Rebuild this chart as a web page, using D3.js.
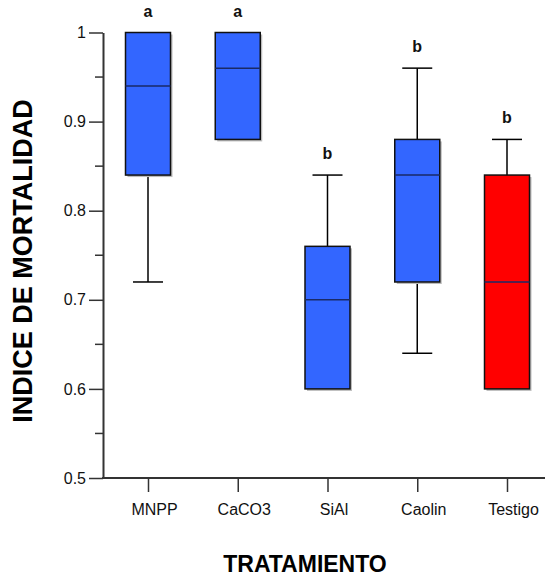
<!DOCTYPE html>
<html lang="es">
<head>
    <meta charset="UTF-8">
    <title>Indice de mortalidad</title>
    <script src="https://cdn.jsdelivr.net/npm/d3@7"></script>
    <style>
        body { margin: 0; background: #fff; }
        text { font-family: "Liberation Sans", Arial, sans-serif; }
    </style>
</head>
<body>
<script>
    // datos
    var categorias = ["MNPP", "CaCO3", "SiAl", "Caolin", "Testigo"];
    var minimo  = [0.72, 0.88, 0.60, 0.64, 0.60];
    var q1      = [0.84, 0.88, 0.60, 0.72, 0.60];
    var mediana = [0.94, 0.96, 0.70, 0.84, 0.72];
    var q3      = [1.00, 1.00, 0.76, 0.88, 0.84];
    var maximo  = [1.00, 1.00, 0.84, 0.96, 0.88];
    var letras  = ["a", "a", "b", "b", "b"];
    var colores = ["#3366ff", "#3366ff", "#3366ff", "#3366ff", "#ff0000"];
    var ticksY  = [0.5, 0.6, 0.7, 0.8, 0.9, 1];
    var ticksMenores = [0.55, 0.65, 0.75, 0.85, 0.95];

    var w = 545, h = 577;
    var x0 = 103, yBottom = 478, yTop = 32.5;
    var boxW = 45, capW = 30;

    var svg = d3.select("body").append("svg")
        .attr("width", w)
        .attr("height", h);

    var x = d3.scalePoint()
        .domain(categorias)
        .range([148, 507]);

    var y = d3.scaleLinear()
        .domain([0.5, 1])
        .range([yBottom, yTop]);

    var datos = categorias.map(function (c, i) {
        return {cat: c, min: minimo[i], q1: q1[i], med: mediana[i], q3: q3[i],
            max: maximo[i], letra: letras[i], color: colores[i]};
    });

    // eje Y
    var ejeY = svg.append("g")
        .attr("transform", "translate(" + x0 + ",0)")
        .call(d3.axisLeft(y).tickValues(ticksY).tickFormat(d3.format("")).tickSize(14).tickSizeOuter(0).tickPadding(3));
    ejeY.select(".domain").attr("stroke", "#333").attr("stroke-width", 2);
    ejeY.selectAll(".tick line").attr("stroke", "#333").attr("stroke-width", 1.5);
    ejeY.selectAll(".tick text").attr("font-size", "16px").attr("fill", "#111")
        .attr("font-family", "Liberation Sans, Arial, sans-serif");

    svg.append("g").selectAll("line")
        .data(ticksMenores)
        .enter()
        .append("line")
        .attr("x1", x0 - 8)
        .attr("x2", x0)
        .attr("y1", function (d) { return y(d); })
        .attr("y2", function (d) { return y(d); })
        .attr("stroke", "#333")
        .attr("stroke-width", 1.5);

    // eje X
    svg.append("line")
        .attr("x1", x0 - 1)
        .attr("x2", w)
        .attr("y1", yBottom)
        .attr("y2", yBottom)
        .attr("stroke", "#333")
        .attr("stroke-width", 2);

    var ejeX = svg.append("g")
        .attr("transform", "translate(0," + yBottom + ")")
        .call(d3.axisBottom(x).tickSize(14).tickSizeOuter(0).tickPadding(12));
    ejeX.select(".domain").remove();
    ejeX.selectAll(".tick line").attr("stroke", "#333").attr("stroke-width", 1.5);
    ejeX.selectAll(".tick text").attr("font-size", "16px").attr("fill", "#111")
        .attr("dx", 6)
        .attr("font-family", "Liberation Sans, Arial, sans-serif");

    // cajas
    var g = svg.append("g").selectAll("g")
        .data(datos)
        .enter()
        .append("g");

    g.append("line")
        .attr("x1", function (d) { return x(d.cat); })
        .attr("x2", function (d) { return x(d.cat); })
        .attr("y1", function (d) { return y(d.max); })
        .attr("y2", function (d) { return y(d.min); })
        .attr("stroke", "#000")
        .attr("stroke-width", 1.5);

    g.filter(function (d) { return d.max > d.q3; })
        .append("line")
        .attr("x1", function (d) { return x(d.cat) - capW / 2; })
        .attr("x2", function (d) { return x(d.cat) + capW / 2; })
        .attr("y1", function (d) { return y(d.max); })
        .attr("y2", function (d) { return y(d.max); })
        .attr("stroke", "#000")
        .attr("stroke-width", 1.5);

    g.filter(function (d) { return d.min < d.q1; })
        .append("line")
        .attr("x1", function (d) { return x(d.cat) - capW / 2; })
        .attr("x2", function (d) { return x(d.cat) + capW / 2; })
        .attr("y1", function (d) { return y(d.min); })
        .attr("y2", function (d) { return y(d.min); })
        .attr("stroke", "#000")
        .attr("stroke-width", 1.5);

    // sombra
    g.append("rect")
        .attr("x", function (d) { return x(d.cat) - boxW / 2 + 2; })
        .attr("y", function (d) { return y(d.q3) + 2; })
        .attr("width", boxW)
        .attr("height", function (d) { return y(d.q1) - y(d.q3); })
        .attr("fill", "#bbb");

    g.append("rect")
        .attr("x", function (d) { return x(d.cat) - boxW / 2; })
        .attr("y", function (d) { return y(d.q3); })
        .attr("width", boxW)
        .attr("height", function (d) { return y(d.q1) - y(d.q3); })
        .attr("fill", function (d) { return d.color; })
        .attr("stroke", "#111")
        .attr("stroke-width", 1.5);

    g.append("line")
        .attr("x1", function (d) { return x(d.cat) - boxW / 2; })
        .attr("x2", function (d) { return x(d.cat) + boxW / 2; })
        .attr("y1", function (d) { return y(d.med); })
        .attr("y2", function (d) { return y(d.med); })
        .attr("stroke", "#1a2a66")
        .attr("stroke-width", 1.5);

    g.append("text")
        .text(function (d) { return d.letra; })
        .attr("x", function (d) { return x(d.cat); })
        .attr("y", function (d) { return y(d.max) - 16; })
        .attr("text-anchor", "middle")
        .attr("font-size", "16px")
        .attr("font-weight", "bold")
        .attr("fill", "#111");

    // titulos
    svg.append("text")
        .text("TRATAMIENTO")
        .attr("x", 305)
        .attr("y", 572)
        .attr("text-anchor", "middle")
        .attr("font-size", "23px")
        .attr("font-weight", "bold");

    svg.append("text")
        .text("INDICE DE MORTALIDAD")
        .attr("transform", "translate(32,261) rotate(-90)")
        .attr("text-anchor", "middle")
        .attr("font-size", "27px")
        .attr("font-weight", "bold");
</script>
</body>
</html>
